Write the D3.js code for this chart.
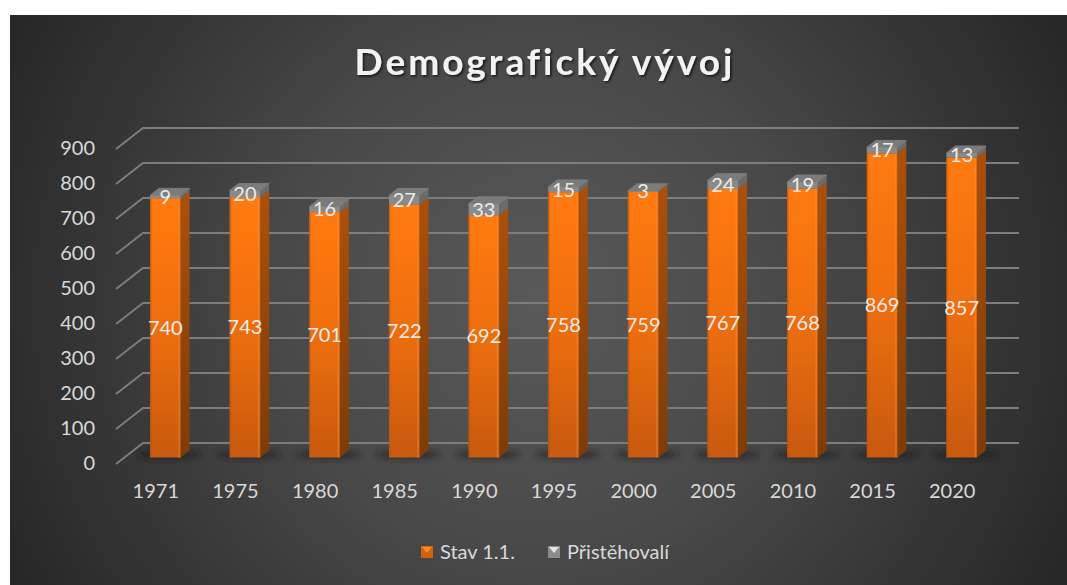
<!DOCTYPE html>
<html>
<head>
<meta charset="utf-8">
<script src="https://cdn.jsdelivr.net/npm/d3@7"></script>
<style>
  html, body { margin: 0; padding: 0; background: #fff; }
  svg { display: block; }
  text { font-family: Lato, "Open Sans", sans-serif; }
</style>
</head>
<body>
<div id="chart"></div>
<script>
var years = ["1971", "1975", "1980", "1985", "1990", "1995", "2000", "2005", "2010", "2015", "2020"];
var stav = [740, 743, 701, 722, 692, 758, 759, 767, 768, 869, 857];
var pristehovali = [9, 20, 16, 27, 33, 15, 3, 24, 19, 17, 13];
var yTicks = [0, 100, 200, 300, 400, 500, 600, 700, 800, 900];
var seriesNames = ["Stav 1.1.", "Přistěhovalí"];

var width = 1067,
  height = 585;

// floor of the 3d box: front edge, and how far the back wall is shifted
var wallDx = 27,
  wallDy = -21;
// bars stand a bit inside the box
var barDx = 9.5,
  barDy = -6.5,
  sideDx = 9,
  sideDy = -7;

var svg = d3
  .select("#chart")
  .append("svg")
  .attr("width", width)
  .attr("height", height);

var x = d3
  .scaleBand()
  .domain(years)
  .range([116, 992])
  .paddingInner(0.617)
  .paddingOuter(0.3085);
var y = d3.scaleLinear().domain([0, 900]).range([464, 149]);

var rows = years.map(function (year, i) {
  return { year: year, stav: stav[i], pristehovali: pristehovali[i] };
});
var stacked = d3.stack().keys(["stav", "pristehovali"])(rows);

createDefs();
createBackground();
createGrid();
createAxes();
createBars();
createLabels();
createTitle();
createLegend();

function createDefs() {
  var defs = svg.append("defs");

  var bg = defs
    .append("radialGradient")
    .attr("id", "bg")
    .attr("gradientUnits", "userSpaceOnUse")
    .attr("cx", 538)
    .attr("cy", 300)
    .attr("r", 590);
  bg.append("stop").attr("offset", "0").attr("stop-color", "#595959");
  bg.append("stop").attr("offset", "0.45").attr("stop-color", "#484848");
  bg.append("stop").attr("offset", "1").attr("stop-color", "#272727");

  addVertical("barFront", [["0", "#ff7a10"], ["0.5", "#ee6e0e"], ["1", "#c8590f"]]);
  addVertical("barSide", [["0", "#ac500a"], ["1", "#7c3c08"]]);

  var edge = defs
    .append("linearGradient")
    .attr("id", "barEdge");
  edge.append("stop").attr("offset", "0").attr("stop-color", "#b4520c").attr("stop-opacity", 0.8);
  edge.append("stop").attr("offset", "0.07").attr("stop-color", "#b4520c").attr("stop-opacity", 0);
  edge.append("stop").attr("offset", "0.9").attr("stop-color", "#ff9a40").attr("stop-opacity", 0);
  edge.append("stop").attr("offset", "0.95").attr("stop-color", "#ff9a40").attr("stop-opacity", 0.35);
  edge.append("stop").attr("offset", "1").attr("stop-color", "#b4520c").attr("stop-opacity", 0.8);

  defs
    .append("filter")
    .attr("id", "blur")
    .attr("x", "-30%")
    .attr("y", "-100%")
    .attr("width", "160%")
    .attr("height", "300%")
    .append("feGaussianBlur")
    .attr("stdDeviation", 3);

  var shadow = defs
    .append("filter")
    .attr("id", "titleShadow")
    .attr("x", "-5%")
    .attr("y", "-20%")
    .attr("width", "110%")
    .attr("height", "140%");
  shadow
    .append("feDropShadow")
    .attr("dx", 1.5)
    .attr("dy", 1.5)
    .attr("stdDeviation", 1.2)
    .attr("flood-color", "#000")
    .attr("flood-opacity", 0.7);

  function addVertical(id, stops) {
    var g = defs
      .append("linearGradient")
      .attr("id", id)
      .attr("x1", 0)
      .attr("y1", 0)
      .attr("x2", 0)
      .attr("y2", 1);
    stops.forEach(function (s) {
      g.append("stop").attr("offset", s[0]).attr("stop-color", s[1]);
    });
  }
}

function createBackground() {
  svg
    .append("rect")
    .attr("x", 10)
    .attr("y", 15)
    .attr("width", width - 10)
    .attr("height", height - 15)
    .attr("fill", "url(#bg)");
}

function createGrid() {
  var grid = svg
    .append("g")
    .attr("fill", "none")
    .attr("stroke", "#7d7d7d")
    .attr("stroke-width", 2)
    .selectAll("path")
    .data(yTicks)
    .enter()
    .append("path")
    .attr("d", function (d) {
      var p = d3.path();
      p.moveTo(x.range()[0], y(d));
      p.lineTo(x.range()[0] + wallDx, y(d) + wallDy);
      p.lineTo(x.range()[1] + wallDx, y(d) + wallDy);
      return p.toString();
    });
  return grid;
}

function createAxes() {
  var yAxis = d3.axisLeft(y).tickValues(yTicks).tickSize(0).tickPadding(21);
  var xAxis = d3.axisBottom(x).tickSize(0).tickPadding(0);

  var yGroup = svg.append("g").attr("transform", "translate(116,-1)").call(yAxis);
  var xGroup = svg.append("g").attr("transform", "translate(0,484)").call(xAxis);

  [yGroup, xGroup].forEach(function (g) {
    g.select(".domain").remove();
    g.selectAll("text")
      .attr("font-size", 20)
      .attr("fill", "#d9d9d9")
      .style("font-family", "Lato, sans-serif");
  });
}

function createBars() {
  var bottom = svg.append("g").attr("class", "floor-shadows");
  bottom
    .selectAll("ellipse")
    .data(years)
    .enter()
    .append("ellipse")
    .attr("cx", function (d) {
      return x(d) + barDx + x.bandwidth() / 2 + 4;
    })
    .attr("cy", y(0) + barDy - 3)
    .attr("rx", 32)
    .attr("ry", 4)
    .attr("fill", "#1c1c1c")
    .attr("opacity", 0.7)
    .attr("filter", "url(#blur)");

  var groups = svg
    .selectAll("g.bar")
    .data(years)
    .enter()
    .append("g")
    .attr("class", "bar");

  groups.each(function (year, i) {
    var g = d3.select(this);
    var x0 = x(year) + barDx,
      x1 = x0 + x.bandwidth();
    var yBase = y(0) + barDy,
      yStav = y(stacked[0][i][1]) + barDy,
      yTop = y(stacked[1][i][1]) + barDy;

    // orange side
    g.append("path")
      .attr("d", side(x1, yStav, yBase))
      .attr("fill", "url(#barSide)");
    // grey side
    g.append("path")
      .attr("d", side(x1, yTop, yStav))
      .attr("fill", "#6b6b6b");
    // top
    g.append("path")
      .attr(
        "d",
        "M" + x0 + "," + yTop +
          "L" + x1 + "," + yTop +
          "L" + (x1 + sideDx) + "," + (yTop + sideDy) +
          "L" + (x0 + sideDx) + "," + (yTop + sideDy) +
          "Z"
      )
      .attr("fill", "#7b7b7b")
      .attr("stroke", "#7b7b7b")
      .attr("stroke-width", 1)
      .attr("stroke-linejoin", "round");
    // fronts
    g.append("rect")
      .attr("x", x0)
      .attr("y", yTop)
      .attr("width", x.bandwidth())
      .attr("height", yStav - yTop)
      .attr("fill", "#8a8a8a");
    g.append("rect")
      .attr("x", x0)
      .attr("y", yStav)
      .attr("width", x.bandwidth())
      .attr("height", yBase - yStav)
      .attr("fill", "url(#barFront)");
    g.append("rect")
      .attr("x", x0)
      .attr("y", yStav)
      .attr("width", x.bandwidth())
      .attr("height", yBase - yStav)
      .attr("fill", "url(#barEdge)");
  });

  function side(xr, yt, yb) {
    return (
      "M" + xr + "," + yt +
      "L" + (xr + sideDx) + "," + (yt + sideDy) +
      "L" + (xr + sideDx) + "," + (yb + sideDy) +
      "L" + xr + "," + yb +
      "Z"
    );
  }
}

function createLabels() {
  var labels = svg
    .append("g")
    .attr("text-anchor", "middle")
    .attr("font-size", 20)
    .attr("fill", "#ececec");

  stacked.forEach(function (layer) {
    labels
      .selectAll("text.s" + layer.index)
      .data(layer)
      .enter()
      .append("text")
      .attr("class", "s" + layer.index)
      .attr("x", function (d) {
        return x(d.data.year) + barDx + x.bandwidth() / 2;
      })
      .attr("y", function (d) {
        return y((d[0] + d[1]) / 2) + barDy;
      })
      .attr("dy", "0.35em")
      .text(function (d) {
        return d[1] - d[0];
      });
  });
}

function createTitle() {
  svg
    .append("text")
    .attr("x", 545)
    .attr("y", 75)
    .attr("text-anchor", "middle")
    .attr("font-size", 37)
    .attr("font-weight", 700)
    .attr("letter-spacing", 3)
    .attr("fill", "#f2f2f2")
    .attr("filter", "url(#titleShadow)")
    .text("Demografický vývoj");
}

function createLegend() {
  var markerColors = [
    ["#d0620f", "#ff8a20"],
    ["#8c8c8c", "#e4e4e4"],
  ];
  var markerX = [421, 548];
  var legend = svg
    .selectAll("g.legend")
    .data(seriesNames)
    .enter()
    .append("g")
    .attr("class", "legend")
    .attr("transform", function (d, i) {
      return "translate(" + markerX[i] + ",546)";
    });
  legend
    .append("rect")
    .attr("width", 12)
    .attr("height", 12)
    .attr("fill", function (d, i) {
      return markerColors[i][0];
    });
  legend
    .append("path")
    .attr("d", "M1,1L11,1L6,7Z")
    .attr("fill", function (d, i) {
      return markerColors[i][1];
    });
  legend
    .append("text")
    .attr("x", 19)
    .attr("y", 6)
    .attr("dy", "0.35em")
    .attr("font-size", 20)
    .attr("fill", "#d9d9d9")
    .text(function (d) {
      return d;
    });
}
</script>
</body>
</html>
